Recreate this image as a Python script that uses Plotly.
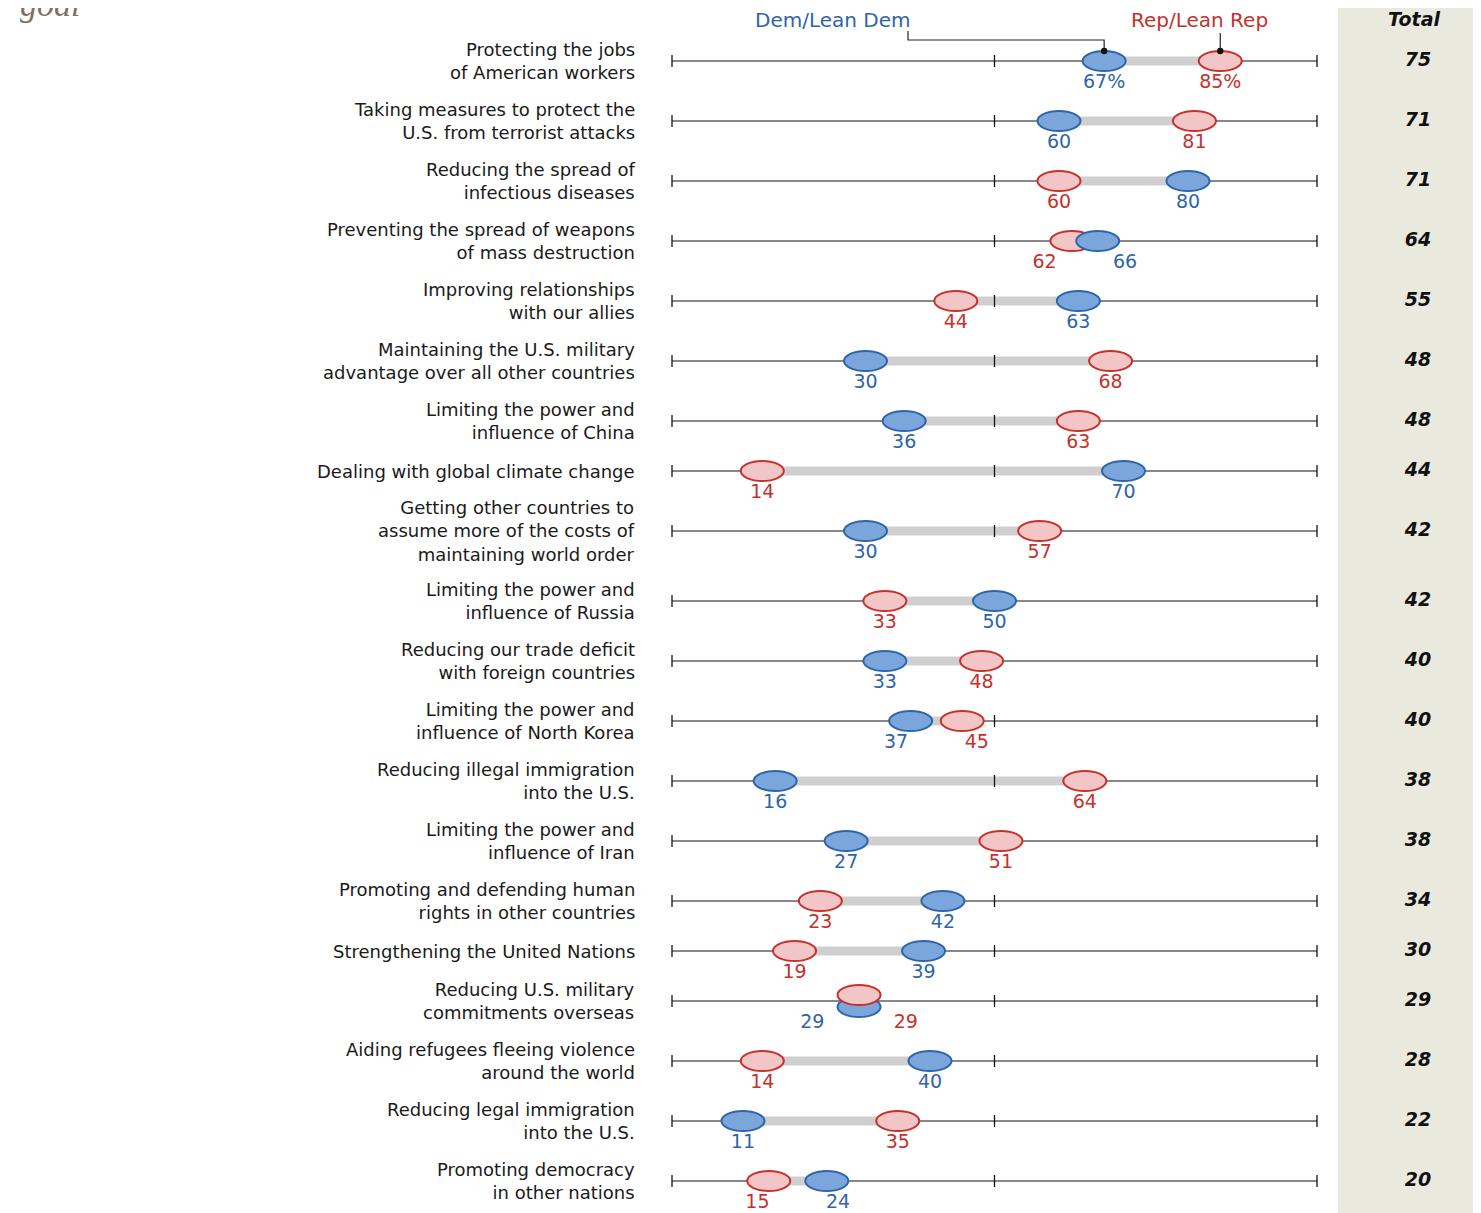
import plotly.graph_objects as go

labels = [
    "Protecting the jobs<br>of American workers",
    "Taking measures to protect the<br>U.S. from terrorist attacks",
    "Reducing the spread of<br>infectious diseases",
    "Preventing the spread of weapons<br>of mass destruction",
    "Improving relationships<br>with our allies",
    "Maintaining the U.S. military<br>advantage over all other countries",
    "Limiting the power and<br>influence of China",
    "Dealing with global climate change",
    "Getting other countries to<br>assume more of the costs of<br>maintaining world order",
    "Limiting the power and<br>influence of Russia",
    "Reducing our trade deficit<br>with foreign countries",
    "Limiting the power and<br>influence of North Korea",
    "Reducing illegal immigration<br>into the U.S.",
    "Limiting the power and<br>influence of Iran",
    "Promoting and defending human<br>rights in other countries",
    "Strengthening the United Nations",
    "Reducing U.S. military<br>commitments overseas",
    "Aiding refugees fleeing violence<br>around the world",
    "Reducing legal immigration<br>into the U.S.",
    "Promoting democracy<br>in other nations",
]
dem = [67, 60, 80, 66, 63, 30, 36, 70, 30, 50, 33, 37, 16, 27, 42, 39, 29, 40, 11, 24]
rep = [85, 81, 60, 62, 44, 68, 63, 14, 57, 33, 48, 45, 64, 51, 23, 19, 29, 14, 35, 15]
total = [75, 71, 71, 64, 55, 48, 48, 44, 42, 42, 40, 40, 38, 38, 34, 30, 29, 28, 22, 20]

BLUE = "#2E64A9"
BLUE_FILL = "#7BA6DB"
RED = "#C7302B"
RED_FILL = "#F2C6C6"
GRAY = "#CFCFCF"
FONT = "DejaVu Sans"

# the page puts an 8px margin around the figure
PAGE_W, PAGE_H, OFF = 1481, 1213, 8
W, H = PAGE_W - OFF, PAGE_H - OFF
PX = 6.45            # pixels per percentage point
X0 = 672             # page pixel of the 0% position


def ux(p):
    """page pixel -> data x"""
    return (p - X0) / PX


# row positions: each row is 20px plus 20px per label line
heights = [20 + 20 * (lab.count("<br>") + 1) for lab in labels]
row_y = [61.0]
for i in range(1, len(labels)):
    row_y.append(row_y[-1] + (heights[i - 1] + heights[i]) / 2)

fig = go.Figure()

# background for the Total column
fig.add_shape(type="rect", xref="paper", yref="paper", x0=(1338 - OFF) / W, x1=1, y0=0, y1=1,
              fillcolor="#E9E9DE", line_width=0, layer="below")

# baseline per row
lx, ly = [], []
for y in row_y:
    lx += [0, 100, None]
    ly += [y, y, None]
fig.add_trace(go.Scatter(x=lx, y=ly, mode="lines", line=dict(color="#111", width=1),
                         hoverinfo="skip", showlegend=False))

# gray connecting bar
gx, gy = [], []
for d, r, y in zip(dem, rep, row_y):
    gx += [d, r, None]
    gy += [y, y, None]
fig.add_trace(go.Scatter(x=gx, y=gy, mode="lines", line=dict(color=GRAY, width=9),
                         hoverinfo="skip", showlegend=False))

# tick marks at 0, 50, 100
tx, ty = [], []
for y in row_y:
    for t in (0, 50, 100):
        tx += [t, t, None]
        ty += [y - 6, y + 6, None]
fig.add_trace(go.Scatter(x=tx, y=ty, mode="lines", line=dict(color="#111", width=1.3),
                         hoverinfo="skip", showlegend=False))

# ellipse markers (lower value drawn first)
HALF_W = 43 / 2 / PX
HALF_H = 10
for d, r, y in zip(dem, rep, row_y):
    dy_d, dy_r = (6, -6) if d == r else (0, 0)
    pts = [(d, y + dy_d, BLUE_FILL, BLUE), (r, y + dy_r, RED_FILL, RED)]
    pts.sort(key=lambda p: p[0] + (0.1 if p[3] == RED else 0))
    for v, yy, fill, line in pts:
        fig.add_shape(type="circle", xref="x", yref="y",
                      x0=v - HALF_W, x1=v + HALF_W, y0=yy - HALF_H, y1=yy + HALF_H,
                      fillcolor=fill, line=dict(color=line, width=2), layer="above")

# value labels, nudged apart when close
MIN_SEP = 12.5
dem_lx, rep_lx = [], []
for d, r in zip(dem, rep):
    dem_left = d <= r
    lo, hi = (d, r) if dem_left else (r, d)
    if hi - lo < MIN_SEP:
        mid = (lo + hi) / 2
        sep = MIN_SEP + (2 if hi == lo else 0)
        lo, hi = mid - sep / 2, mid + sep / 2
    if dem_left:
        dem_lx.append(lo); rep_lx.append(hi)
    else:
        dem_lx.append(hi); rep_lx.append(lo)

dem_txt = [f"{v}%" if i == 0 else str(v) for i, v in enumerate(dem)]
rep_txt = [f"{v}%" if i == 0 else str(v) for i, v in enumerate(rep)]
lab_y = [y + 22 for y in row_y]
fig.add_trace(go.Scatter(x=dem_lx, y=lab_y, mode="text", text=dem_txt,
                         textfont=dict(family=FONT, size=19, color=BLUE),
                         hoverinfo="skip", showlegend=False))
fig.add_trace(go.Scatter(x=rep_lx, y=lab_y, mode="text", text=rep_txt,
                         textfont=dict(family=FONT, size=19, color=RED),
                         hoverinfo="skip", showlegend=False))

# totals column
TOTAL_X = ux(1418)
fig.add_trace(go.Scatter(x=[TOTAL_X] * len(total), y=row_y, mode="text",
                         text=[f"<b><i>{t}</i></b>" for t in total],
                         textfont=dict(family=FONT, size=19, color="#111"),
                         hoverinfo="skip", showlegend=False))

# row labels
for lab, y in zip(labels, row_y):
    fig.add_annotation(x=ux(637), y=y, xref="x", yref="y", text=lab, showarrow=False,
                       xanchor="right", yanchor="middle", align="right",
                       font=dict(family=FONT, size=18, color="#1a1a1a"))

# header legend with leader lines
fig.add_trace(go.Scatter(x=[ux(908), ux(908), dem[0], dem[0]], y=[31, 40, 40, row_y[0] - 10],
                         mode="lines", line=dict(color="#222", width=1.2),
                         hoverinfo="skip", showlegend=False))
fig.add_trace(go.Scatter(x=[rep[0], rep[0]], y=[33, row_y[0] - 10],
                         mode="lines", line=dict(color="#222", width=1.2),
                         hoverinfo="skip", showlegend=False))
for v in (dem[0], rep[0]):
    fig.add_shape(type="circle", xref="x", yref="y", x0=v - 0.5, x1=v + 0.5,
                  y0=row_y[0] - 13.2, y1=row_y[0] - 6.8, fillcolor="#111",
                  line_width=0, layer="above")

fig.add_annotation(x=ux(833), y=20, xref="x", yref="y", text="Dem/Lean Dem",
                   showarrow=False, font=dict(family=FONT, size=20, color=BLUE))
fig.add_annotation(x=ux(1199), y=20, xref="x", yref="y", text="Rep/Lean Rep",
                   showarrow=False, font=dict(family=FONT, size=20, color=RED))
fig.add_annotation(x=ux(1414), y=19, xref="x", yref="y", text="<b><i>Total</i></b>",
                   showarrow=False, font=dict(family=FONT, size=19, color="#111"))
# tail of the cut-off subtitle at the top edge
fig.add_annotation(x=ux(18), y=25, xref="x", yref="y", text="<i>goal</i>",
                   showarrow=False, xanchor="left", yanchor="bottom",
                   font=dict(family="Liberation Serif", size=34, color="#7F7263"))

fig.update_xaxes(range=[ux(OFF), ux(OFF + W)], visible=False, fixedrange=True)
fig.update_yaxes(range=[OFF + H, OFF], visible=False, fixedrange=True)
fig.update_layout(width=W, height=H, margin=dict(l=0, r=0, t=0, b=0),
                  plot_bgcolor="white", paper_bgcolor="white", showlegend=False)

fig.write_html("out.html")
